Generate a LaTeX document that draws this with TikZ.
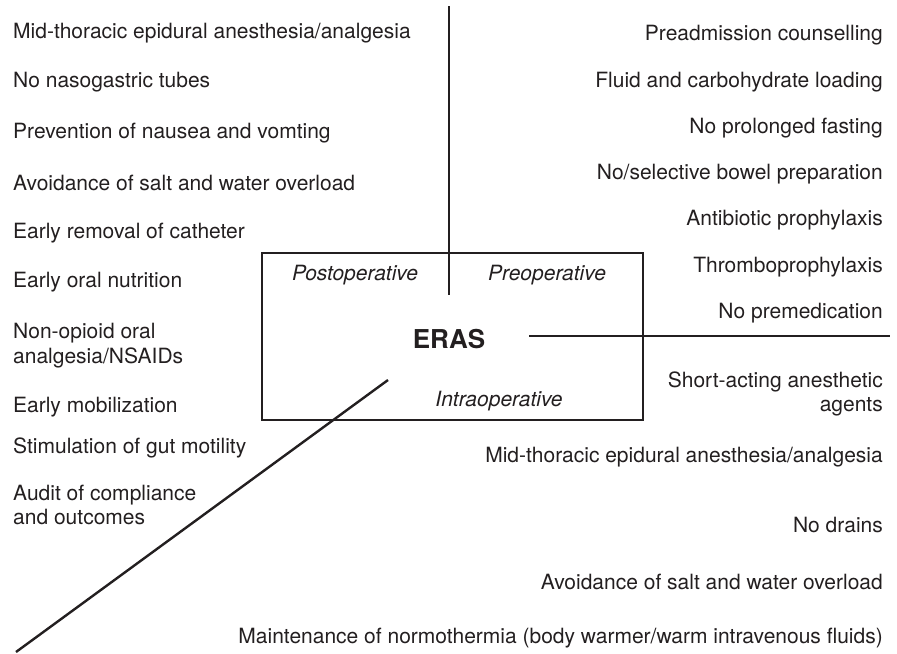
\documentclass[tikz,border=0pt]{standalone}
\usepackage{fontspec}
\setmainfont{TeX Gyre Heros}
\usepackage{tikz}
\usetikzlibrary{positioning}

\definecolor{ink}{HTML}{231F20}

\begin{document}
\begin{tikzpicture}[x=0.5pt, y=-0.5pt,
		line width=1.2pt, draw=ink, text=ink,
		item/.style={inner sep=0pt, font=\fontsize{10.5}{12.4}\selectfont},
		lft/.style={item, anchor=west, align=left},
		rgt/.style={item, anchor=east, align=right},
		phase/.style={item, font=\fontsize{10.5}{12.4}\selectfont\itshape}]
			\useasboundingbox (0,0) rectangle (897,653);

			% box and phase labels
			\node[draw, minimum width=190.5pt, minimum height=83.5pt, inner sep=0pt] (box) at (452.5,336.5) {};
			\node[phase] (post) at (355,275) {Postoperative};
			\node[phase] (pre) at (547,275) {Preoperative};
			\node[phase] (intra) at (499,401) {Intraoperative};
			\node[item, font=\fontsize{13}{15}\selectfont\bfseries] (eras) at (449,339) {ERAS};

			% dividers
			\coordinate (vtop) at (449,6);
			\coordinate (vbot) at (449,295);
			\coordinate (hl) at (529,336);
			\coordinate (hr) at (890,336);
			\coordinate (dtop) at (388,380);
			\coordinate (dbot) at (16,652);
			\draw (vtop) -- (vbot);
			\draw (hl) -- (hr);
			\draw (dtop) -- (dbot);

			% postoperative
			\node[lft] (po1) at (12,33) {Mid-thoracic epidural anesthesia/analgesia};
			\node[lft] (po2) at (12,82) {No nasogastric tubes};
			\node[lft] (po3) at (12,133) {Prevention of nausea and vomting};
			\node[lft] (po4) at (12,183) {Avoidance of salt and water overload};
			\node[lft] (po5) at (12,233) {Early removal of catheter};
			\node[lft] (po6) at (12,282) {Early oral nutrition};
			\node[lft] (po7) at (12,346) {Non-opioid oral\\analgesia/NSAIDs};
			\node[lft] (po8) at (12,407) {Early mobilization};
			\node[lft] (po9) at (12,448) {Stimulation of gut motility};
			\node[lft] (po10) at (12,505) {Audit of compliance\\and outcomes};

			% preoperative
			\node[rgt] (pr1) at (884,35) {Preadmission counselling};
			\node[rgt] (pr2) at (884,82) {Fluid and carbohydrate loading};
			\node[rgt] (pr3) at (884,128) {No prolonged fasting};
			\node[rgt] (pr4) at (884,174) {No/selective bowel preparation};
			\node[rgt] (pr5) at (884,220) {Antibiotic prophylaxis};
			\node[rgt] (pr6) at (884,267) {Thromboprophylaxis};
			\node[rgt] (pr7) at (884,313) {No premedication};

			% intraoperative
			\node[rgt] (in1) at (884,394) {Short-acting anesthetic\\agents};
			\node[rgt] (in2) at (884,457) {Mid-thoracic epidural anesthesia/analgesia};
			\node[rgt] (in3) at (884,525) {No drains};
			\node[rgt] (in4) at (884,582) {Avoidance of salt and water overload};
			\node[rgt] (in5) at (884,638) {Maintenance of normothermia (body warmer/warm intravenous fluids)};
		\end{tikzpicture}
\end{document}
